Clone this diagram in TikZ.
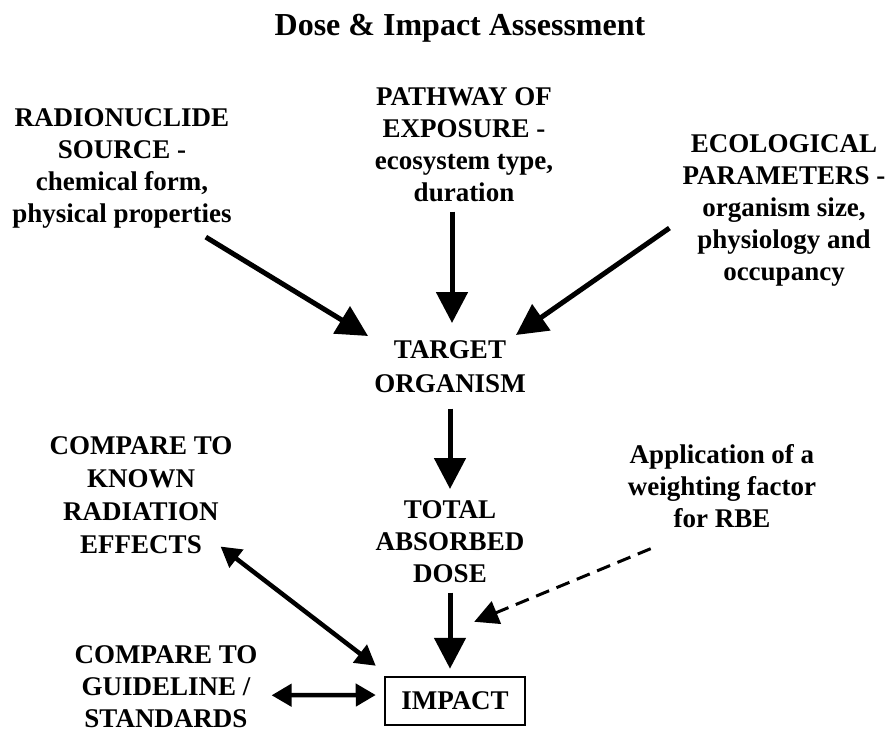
\documentclass[tikz,border=0pt]{standalone}
\usepackage{fontspec}
\setmainfont{Liberation Serif}
\usetikzlibrary{arrows.meta}
\tikzset{
  txt/.style={align=center,inner sep=0pt,anchor=north,font=\fontsize{27}{32}\selectfont\bfseries},
  bigarr/.style={line width=5pt,-{Triangle[length=31pt,width=31pt]}},
  dblarr/.style={line width=4.5pt,{Triangle[length=20pt,width=22pt]}-{Triangle[length=20pt,width=22pt]}},
  dasharr/.style={line width=3pt,dash pattern=on 14pt off 8pt,-{Triangle[length=24pt,width=24pt]}},
}
\begin{document}
\begin{tikzpicture}[x=1pt,y=-1pt]
\useasboundingbox (0,0) rectangle (889,731);
\node[anchor=base,inner sep=0pt,font=\fontsize{32}{38}\selectfont\bfseries] (title) at (460,35) {Dose \& Impact Assessment};
% what feeds the dose
\node[txt] (source) at (122,108) {RADIONUCLIDE\\SOURCE -\\chemical form,\\physical properties};
\node[txt] (pathway) at (464,87) {PATHWAY OF\\EXPOSURE -\\ecosystem type,\\duration};
\node[txt] (ecology) at (784,134) {ECOLOGICAL\\PARAMETERS -\\organism size,\\physiology and\\occupancy};
% main chain
\node[txt,font=\fontsize{27}{34}\selectfont\bfseries] (target) at (450,340) {TARGET\\ORGANISM};
\node[txt] (dose) at (450,500) {TOTAL\\ABSORBED\\DOSE};
\node[draw,line width=2.5pt,minimum width=140pt,minimum height=48pt,inner sep=0pt,font=\fontsize{27}{32}\selectfont\bfseries] (impact) at (455,701) {IMPACT};
% comparisons and weighting
\node[txt,font=\fontsize{27}{33}\selectfont\bfseries] (known) at (141,436) {COMPARE TO\\KNOWN\\RADIATION\\EFFECTS};
\node[txt] (guide) at (166,645) {COMPARE TO\\GUIDELINE /\\STANDARDS};
\node[txt] (rbe) at (722,444) {Application of a\\weighting factor\\for RBE};

\draw[bigarr] ([shift={(-26,9)}]source.south east) -- ([shift={(-6,-4)}]target.north west);
\draw[bigarr] ([shift={(-12,10)}]pathway.south) -- ([shift={(2,-17)}]target.north);
\draw[bigarr] ([shift={(-13,18)}]ecology.west) -- ([shift={(-10,-5)}]target.north east);
\draw[bigarr] ([shift={(0,16)}]target.south) -- ([shift={(0,-11)}]dose.north);
\draw[bigarr] ([shift={(0,10)}]dose.south) -- ([shift={(-5,-7)}]impact.north);
\draw[dblarr] ([shift={(-12,-7)}]known.south east) -- ([shift={(-8,-10)}]impact.north west);
\draw[dblarr] ([shift={(14,9)}]guide.east) -- ([shift={(-8,-6)}]impact.west);
\draw[dasharr] ([shift={(23,21)}]rbe.south west) -- ([shift={(-52,-54)}]impact.north east);
\end{tikzpicture}
\end{document}
